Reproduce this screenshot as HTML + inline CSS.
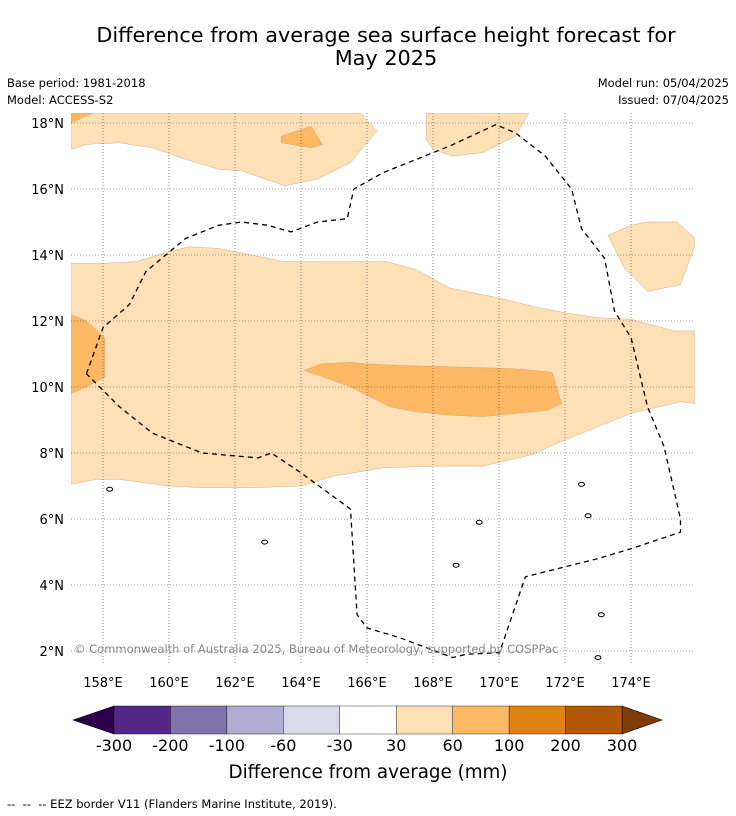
<!DOCTYPE html>
<html><head><meta charset="utf-8"><style>
body{margin:0;background:#fff;font-family:"DejaVu Sans","Liberation Sans",sans-serif;}
#wrap{position:relative;width:736px;height:816px;overflow:hidden;}
.t{position:absolute;white-space:nowrap;}
svg text{font-family:"DejaVu Sans","Liberation Sans",sans-serif;}
</style></head><body>
<div id="wrap">
<div class="t" style="left:0;width:772px;top:24px;text-align:center;font-size:20.8px;line-height:23px;">Difference from average sea surface height forecast for<br>May 2025</div>
<div class="t" style="left:7px;top:76px;font-size:11.5px;">Base period: 1981-2018</div>
<div class="t" style="left:7px;top:93px;font-size:11.5px;">Model: ACCESS-S2</div>
<div class="t" style="right:7px;top:76px;font-size:11.5px;">Model run: 05/04/2025</div>
<div class="t" style="right:7px;top:93px;font-size:11.5px;">Issued: 07/04/2025</div>
<div class="t" style="left:7px;top:797px;font-size:11.5px;">-- &nbsp;-- &nbsp;-- EEZ border V11 (Flanders Marine Institute, 2019).</div>
<svg id="map" width="736" height="816" style="position:absolute;left:0;top:0"></svg>
</div>
<script>
const lonTicks=[158,160,162,164,166,168,170,172,174];
const latTicks=[2,4,6,8,10,12,14,16,18];
const cbLabels=["-300","-200","-100","-60","-30","30","60","100","200","300"];
const cbColors=["#542788","#8073ac","#b2abd2","#d8daeb","#ffffff","#fee0b6","#fdb863","#e08214","#b35806"];
const lightBand=[[157.03,13.75],[158,13.75],[159,13.8],[160,14.1],[160.6,14.25],[161.5,14.2],[163.5,13.8],[165.5,13.8],[166.6,13.8],[167.5,13.55],[168.5,13.0],[170,12.7],[171,12.45],[172,12.25],[173,12.1],[174,12.05],[175.3,11.7],[175.94,11.7],[175.94,9.5],[175.5,9.55],[174,9.2],[173,8.8],[172,8.4],[171,7.95],[169.5,7.6],[168,7.6],[166.5,7.55],[165,7.3],[164,7.0],[162.5,6.95],[161,6.95],[160,7.0],[158.5,7.2],[157.8,7.2],[157.03,7.05]];
const lightTopLeft=[[157.03,18.3],[165.8,18.3],[166.3,17.75],[165.5,16.8],[164.5,16.3],[163.5,16.1],[162.2,16.55],[161.5,16.6],[160.5,16.9],[159.5,17.25],[158.5,17.4],[157.5,17.35],[157.03,17.2]];
const lightTopMid=[[167.8,18.3],[170.9,18.3],[170.5,17.6],[169.5,17.1],[168.6,17.0],[168.0,17.2],[167.8,17.5]];
const lightRight=[[173.3,14.6],[174,14.9],[174.5,15.0],[175.4,15.0],[175.94,14.5],[175.94,14.3],[175.5,13.1],[174.5,12.9],[173.8,13.6]];
const midLeft=[[157.03,12.2],[157.5,12.0],[158.05,11.5],[158.05,10.3],[157.5,10.0],[157.03,9.8]];
const midCentral=[[164.1,10.5],[164.6,10.7],[165.5,10.75],[166,10.7],[167,10.65],[169,10.6],[170.5,10.55],[171.6,10.45],[171.9,9.5],[171.5,9.3],[170.5,9.2],[169.5,9.1],[168.5,9.15],[167.5,9.25],[166.7,9.4],[166.3,9.6],[165.5,10.0],[164.7,10.3]];
const midTopCorner=[[157.03,18.3],[157.7,18.3],[157.03,18.0]];
const midTopPatch=[[163.4,17.6],[164.3,17.9],[164.65,17.35],[164.3,17.25],[163.4,17.4]];
const eez=[[157.5,10.4],[158,11.8],[158.8,12.5],[159.3,13.5],[160.5,14.5],[161.5,14.9],[162.2,15.0],[163,14.9],[163.7,14.7],[164.5,15.0],[165.4,15.1],[165.6,16.0],[166.5,16.5],[168.5,17.3],[169.9,17.95],[170.5,17.7],[171.4,17.0],[172.2,16.0],[172.5,14.8],[173.2,13.9],[173.5,12.3],[174,11.5],[174.5,9.4],[175,8.2],[175.5,6.0],[175.5,5.6],[174,5.1],[173,4.8],[172,4.55],[170.8,4.25],[170.1,2.2],[170,1.95],[169,1.9],[168.6,1.8],[167,2.4],[166,2.7],[165.7,3.1],[165.5,6.3],[164,7.4],[163.1,8.0],[162.7,7.85],[161,8.0],[159.5,8.6],[158.5,9.4],[157.5,10.4]];
const X0=71,X1=695,Y0=113,Y1=665;
const xs=lon=>103+(lon-158)*33;
const ys=lat=>123+(18-lat)*33;
const svg=document.getElementById('map');
const NS="http://www.w3.org/2000/svg";
function mk(tag,attrs,parent){const e=document.createElementNS(NS,tag);for(const k in attrs)e.setAttribute(k,attrs[k]);(parent||svg).appendChild(e);return e;}
const defs=mk('defs',{});const cp=mk('clipPath',{id:'clip'},defs);mk('rect',{x:X0,y:Y0,width:X1-X0,height:Y1-Y0},cp);
const g=mk('g',{'clip-path':'url(#clip)'});


function poly(pts,fill,name,closed){const d=pts.map((p,i)=>(i?'L':'M')+xs(p[0]).toFixed(1)+','+ys(p[1]).toFixed(1)).join('')+(closed?'Z':'');
 const e=mk('path',{d:d,fill:fill,stroke:fill=='none'?'#000':'#c8a070','stroke-width':fill=='none'?1.3:0.4},g);
 if(fill=='none')e.setAttribute('stroke-dasharray','5,4');
 
 return e;}
poly(lightBand,'#fee0b6','anomaly-30-60-band',true);
poly(lightTopLeft,'#fee0b6','anomaly-30-60-north-west',true);
poly(lightTopMid,'#fee0b6','anomaly-30-60-north',true);
poly(lightRight,'#fee0b6','anomaly-30-60-east',true);
poly(midLeft,'#fdb863','anomaly-60-100-west',true);
poly(midCentral,'#fdb863','anomaly-60-100-central',true);
poly(midTopCorner,'#fdb863','anomaly-60-100-corner',true);
poly(midTopPatch,'#fdb863','anomaly-60-100-north-patch',true);
lonTicks.forEach(l=>{const ln=mk('line',{x1:xs(l),x2:xs(l),y1:Y0,y2:Y1,stroke:'#444','stroke-width':0.6,'stroke-dasharray':'1,2'},g);
 
 
 const t=mk('text',{x:xs(l),y:687,'font-size':13,'text-anchor':'middle'});t.textContent=l+'°E';
 
 });
latTicks.forEach(l=>{const ln=mk('line',{x1:X0,x2:X1,y1:ys(l),y2:ys(l),stroke:'#444','stroke-width':0.6,'stroke-dasharray':'1,2'},g);
 
 
 const t=mk('text',{x:64,y:ys(l)+5,'font-size':13,'text-anchor':'end'});t.textContent=l+'°N';
 
 });
poly(eez,'none','eez-border',false);
const isl=[[158.2,6.9],[162.9,5.3],[168.7,4.6],[172.5,7.05],[173.1,3.1],[173.0,1.8],[169.4,5.9],[172.7,6.1]];
isl.forEach(p=>{const e=mk('ellipse',{cx:xs(p[0]),cy:ys(p[1]),rx:3,ry:2,fill:'none',stroke:'#000','stroke-width':1},g);
 
 });
const cr=mk('text',{x:74,y:653,'font-size':11.5,fill:'#888'});cr.textContent='© Commonwealth of Australia 2025, Bureau of Meteorology, supported by COSPPac';


const cb=mk('g',{});


const cbX=i=>114+i*(508/9);
mk('polygon',{points:'73,720 114,706 114,734',fill:'#2d004b',stroke:'#000','stroke-width':0.6},cb);
mk('polygon',{points:'662,720 622,706 622,734',fill:'#7f3b08',stroke:'#000','stroke-width':0.6},cb);
cbColors.forEach((c,i)=>{const r=mk('rect',{x:cbX(i),y:706,width:508/9,height:28,fill:c,stroke:'#000','stroke-width':0.4},cb);
 
 });
cbLabels.forEach((s,i)=>{const t=mk('text',{x:cbX(i),y:751,'font-size':16,'text-anchor':'middle'},cb);t.textContent=s;
 
 });
const ct=mk('text',{x:368,y:778,'font-size':18.3,'text-anchor':'middle'},cb);ct.textContent='Difference from average (mm)';


</script>
</body></html>
